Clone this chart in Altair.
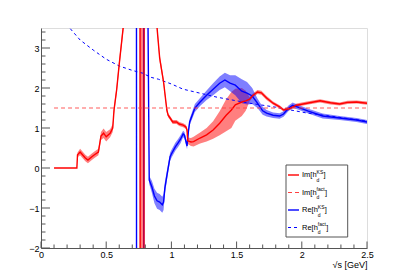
import altair as alt
import pandas as pd

# ---------------- data ----------------
# Im[h_d^KS] : x, central value, half-width of the band
im_ks_x = [0.10, 0.275, 0.28, 0.30, 0.34, 0.36, 0.39, 0.41, 0.44, 0.455, 0.46, 0.48, 0.50, 0.53,
           0.55, 0.56, 0.58, 0.60, 0.63, 0.70, 0.755, 0.765, 0.785, 0.795, 0.85, 0.89, 0.91,
           0.94, 0.965, 0.975, 0.99, 1.01, 1.04, 1.06, 1.09, 1.11, 1.12, 1.125, 1.15, 1.17,
           1.22, 1.27, 1.32, 1.37, 1.42, 1.46, 1.49, 1.54, 1.57, 1.60, 1.62, 1.66, 1.69, 1.73,
           1.78, 1.83, 1.86, 1.90, 1.96, 2.04, 2.14, 2.22, 2.29, 2.35, 2.42, 2.50]
im_ks_y = [0.0, 0.0, 0.33, 0.40, 0.25, 0.20, 0.28, 0.33, 0.40, 0.70, 0.80, 0.87, 0.78, 0.87,
           1.00, 1.45, 1.95, 2.60, 3.50, 6.0, 30.0, -30.0, -30.0, 30.0, 8.0, 3.50, 2.75,
           2.15, 1.45, 1.32, 1.25, 1.15, 1.15, 1.10, 1.07, 1.03, 0.95, 0.68, 0.65, 0.66,
           0.75, 0.83, 0.95, 1.12, 1.32, 1.45, 1.58, 1.65, 1.68, 1.72, 1.80, 1.90, 1.88, 1.75,
           1.62, 1.53, 1.45, 1.48, 1.57, 1.62, 1.68, 1.63, 1.60, 1.64, 1.65, 1.62]
im_ks_err = [0.0, 0.0, 0.06, 0.08, 0.08, 0.08, 0.08, 0.08, 0.08, 0.10, 0.10, 0.12, 0.12, 0.10,
             0.10, 0.10, 0.10, 0.12, 0.12, 0.2, 0.3, 35.0, 35.0, 0.3, 0.2, 0.10, 0.10,
             0.08, 0.06, 0.05, 0.05, 0.05, 0.05, 0.05, 0.05, 0.05, 0.06, 0.08, 0.10, 0.12,
             0.14, 0.17, 0.22, 0.30, 0.40, 0.45, 0.40, 0.35, 0.25, 0.05, 0.05, 0.05, 0.05, 0.05,
             0.04, 0.04, 0.04, 0.04, 0.04, 0.04, 0.04, 0.04, 0.04, 0.04, 0.04, 0.04]

# Re[h_d^KS]
re_ks_x = [0.70, 0.73, 0.735, 0.785, 0.7905, 0.81, 0.83, 0.85, 0.87, 0.89, 0.91, 0.93, 0.94, 0.95,
           0.97, 0.99, 1.00, 1.03, 1.05, 1.07, 1.09, 1.10, 1.12, 1.13, 1.14, 1.18, 1.22, 1.27,
           1.32, 1.37, 1.41, 1.45, 1.49, 1.54, 1.58, 1.62, 1.66, 1.70, 1.73, 1.78, 1.83, 1.86,
           1.90, 1.93, 1.97, 2.05, 2.16, 2.29, 2.42, 2.50]
re_ks_y = [30.0, 30.0, -30.0, -30.0, 30.0, 8.0, -0.30, -0.47, -0.70, -0.82, -0.85, -0.92, -0.85, -0.50,
           -0.10, 0.28, 0.35, 0.53, 0.62, 0.72, 0.85, 0.82, 0.55, 0.90, 1.15, 1.50, 1.65, 1.82,
           1.97, 2.12, 2.20, 2.12, 2.07, 1.92, 1.87, 1.80, 1.62, 1.43, 1.37, 1.32, 1.30, 1.35,
           1.50, 1.57, 1.52, 1.42, 1.30, 1.25, 1.20, 1.15]
re_ks_err = [0.0, 0.0, 0.0, 0.0, 0.0, 0.05, 0.10, 0.15, 0.18, 0.20, 0.20, 0.20, 0.20, 0.15,
             0.12, 0.10, 0.10, 0.10, 0.10, 0.10, 0.08, 0.08, 0.08, 0.08, 0.08, 0.10, 0.10, 0.12,
             0.15, 0.17, 0.18, 0.20, 0.25, 0.30, 0.28, 0.20, 0.12, 0.10, 0.08, 0.07, 0.07, 0.07,
             0.07, 0.07, 0.06, 0.06, 0.06, 0.05, 0.05, 0.05]

# Re[h_d^fact]
re_fact_x = [0.15, 0.22, 0.30, 0.40, 0.50, 0.60, 0.70, 0.78, 0.84, 0.90, 1.00, 1.09, 1.22,
             1.35, 1.50, 1.60, 1.80, 2.03, 2.28, 2.50]
re_fact_y = [4.5, 3.50, 3.20, 2.95, 2.72, 2.55, 2.44, 2.37, 2.27, 2.22, 2.10, 1.97, 1.87,
             1.77, 1.68, 1.62, 1.52, 1.38, 1.27, 1.17]

# Im[h_d^fact]
im_fact_x = [0.10, 2.50]
im_fact_y = [1.50, 1.50]

# axis ticks
x_major = [0, 0.5, 1, 1.5, 2, 2.5]
x_minor = [0.1, 0.2, 0.3, 0.4, 0.6, 0.7, 0.8, 0.9, 1.1, 1.2, 1.3, 1.4, 1.6, 1.7, 1.8, 1.9,
           2.1, 2.2, 2.3, 2.4]
y_major = [-2, -1, 0, 1, 2, 3]
y_minor = [-1.8, -1.6, -1.4, -1.2, -0.8, -0.6, -0.4, -0.2, 0.2, 0.4, 0.6, 0.8, 1.2, 1.4, 1.6,
           1.8, 2.2, 2.4, 2.6, 2.8, 3.2, 3.4]

x_title = "√s [GeV]"

# ---------------- tables ----------------
im_ks = pd.DataFrame({"x": im_ks_x, "y": im_ks_y, "e": im_ks_err})
im_ks["lo"] = im_ks["y"] - im_ks["e"]
im_ks["hi"] = im_ks["y"] + im_ks["e"]
re_ks = pd.DataFrame({"x": re_ks_x, "y": re_ks_y, "e": re_ks_err})
re_ks["lo"] = re_ks["y"] - re_ks["e"]
re_ks["hi"] = re_ks["y"] + re_ks["e"]
re_fact = pd.DataFrame({"x": re_fact_x, "y": re_fact_y})
im_fact = pd.DataFrame({"x": im_fact_x, "y": im_fact_y})

FONT = "Liberation Sans"
W, H = 326, 220
AX = "#555555"

xs = alt.Scale(domain=[0, 2.5], nice=False, zero=False)
ys = alt.Scale(domain=[-2, 3.5], nice=False, zero=False)
x_axis = alt.Axis(values=x_major, format="~g", ticks=False, tickSize=0, grid=False,
                  labelFont=FONT, labelFontSize=9, labelColor="black", labelPadding=2,
                  domainColor=AX, title=x_title, titleFont=FONT, titleFontSize=9,
                  titleFontWeight="normal", titleColor="black", titleAnchor="end",
                  titlePadding=1, labelFlush=False)
y_axis = alt.Axis(values=y_major, format="~g", ticks=False, tickSize=0, grid=False,
                  labelFont=FONT, labelFontSize=9, labelColor="black", labelPadding=2,
                  domainColor=AX, title=None, labelFlush=False)


def X(f="x"):
    return alt.X(f"{f}:Q", scale=xs, axis=x_axis)


def Y(f="y"):
    return alt.Y(f"{f}:Q", scale=ys, axis=y_axis)


red_band = alt.Chart(im_ks).mark_area(clip=True, color="#ff0000", opacity=0.5).encode(
    x=X(), y=Y("lo"), y2="hi")
blue_band = alt.Chart(re_ks).mark_area(clip=True, color="#0000ff", opacity=0.5).encode(
    x=X(), y=Y("lo"), y2="hi")
red_line = alt.Chart(im_ks).mark_line(clip=True, color="#ff0000", strokeWidth=1.4).encode(
    x=X(), y=Y())
red_dash = alt.Chart(im_fact).mark_line(clip=True, color="#ff4040", strokeWidth=1.2,
                                        strokeDash=[4, 3], opacity=0.85).encode(x=X(), y=Y())
blue_line = alt.Chart(re_ks).mark_line(clip=True, color="#0000ff", strokeWidth=1.4).encode(
    x=X(), y=Y())
blue_dash = alt.Chart(re_fact).mark_line(clip=True, color="#0000ff", strokeWidth=1,
                                         strokeDash=[3, 3]).encode(x=X(), y=Y())


# inward ticks
def yticks(vals, length):
    return alt.Chart(pd.DataFrame({"v": vals})).mark_rule(color=AX, strokeWidth=1).encode(
        y=alt.Y("v:Q", scale=ys, axis=y_axis), x=alt.value(0), x2=alt.value(length))


def xticks(vals, length):
    return alt.Chart(pd.DataFrame({"v": vals})).mark_rule(color=AX, strokeWidth=1).encode(
        x=alt.X("v:Q", scale=xs, axis=x_axis), y=alt.value(H), y2=alt.value(H - length))


ticks = [yticks(y_major, 9), yticks(y_minor, 4.5), xticks(x_major, 6.5), xticks(x_minor, 3.5)]

# legend (hand-built to keep super/subscripts)
base = alt.Chart(pd.DataFrame({"a": [0]}))
leg = [base.mark_rect(fill="white", stroke=AX, strokeWidth=1).encode(
    x=alt.value(245), x2=alt.value(306.7), y=alt.value(137), y2=alt.value(209))]
entries = [
    ("Im[h", "KS", "#ff0000", None, 1.4, 147.0, 14.6, 6.9),
    ("Im[h", "fact", "#ff4040", [4, 3], 1.2, 164.5, 14.6, 8.4),
    ("Re[h", "KS", "#0000ff", None, 1.4, 182.0, 15.8, 6.9),
    ("Re[h", "fact", "#0000ff", [3, 3], 1.0, 199.5, 15.8, 8.4),
]
x0 = 261
for main, sup, col, dash, sw, yc, wmain, wsup in entries:
    kw = dict(color=col, strokeWidth=sw)
    if dash:
        kw["strokeDash"] = dash
    leg.append(base.mark_rule(**kw).encode(x=alt.value(247), x2=alt.value(258),
                                           y=alt.value(yc), y2=alt.value(yc)))
    leg.append(base.mark_text(text=main, font=FONT, fontSize=7.5, align="left",
                              baseline="middle", color="black").encode(
        x=alt.value(x0), y=alt.value(yc)))
    leg.append(base.mark_text(text=sup, font=FONT, fontSize=5, align="left",
                              baseline="middle", color="black").encode(
        x=alt.value(x0 + wmain), y=alt.value(yc - 3.5)))
    leg.append(base.mark_text(text="d", font=FONT, fontSize=5, align="left",
                              baseline="middle", color="black").encode(
        x=alt.value(x0 + wmain), y=alt.value(yc + 4.5)))
    leg.append(base.mark_text(text="]", font=FONT, fontSize=7.5, align="left",
                              baseline="middle", color="black").encode(
        x=alt.value(x0 + wmain + wsup), y=alt.value(yc)))

chart = alt.layer(red_band, blue_band, blue_line, blue_dash, red_line, red_dash,
                  *ticks, *leg).properties(
    width=W, height=H, autosize=alt.AutoSizeParams(type="none"),
    padding={"left": 33, "top": 20, "right": 30, "bottom": 25},
).configure_view(stroke=AX, strokeWidth=1).configure(background="white")

chart.save("out.html", embed_options={"renderer": "svg", "actions": False})
